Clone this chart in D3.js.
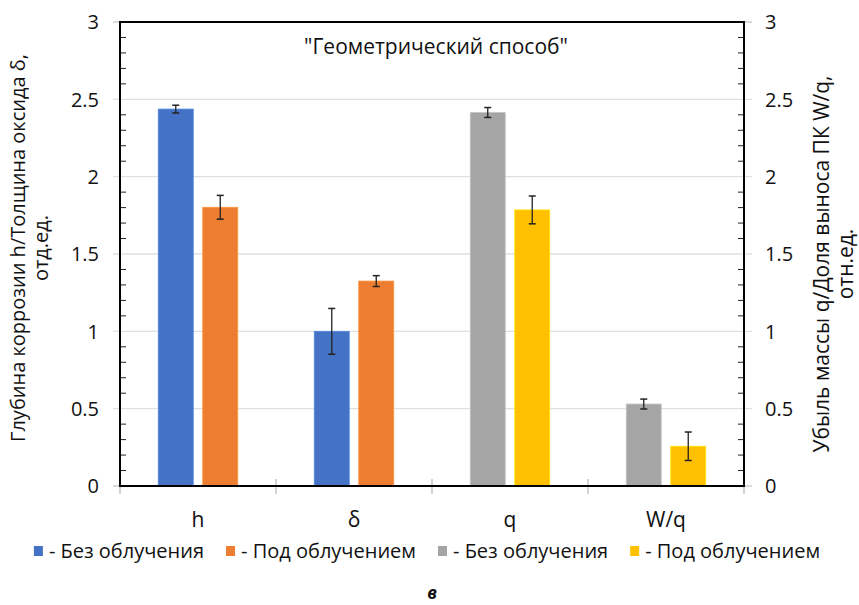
<!DOCTYPE html>
<html>
<head>
<meta charset="utf-8">
<script src="https://cdn.jsdelivr.net/npm/d3@7"></script>
<style>
  html, body { margin: 0; padding: 0; background: #fff; }
  svg text { font-family: "Open Sans", "Noto Sans", sans-serif; fill: #111; }
</style>
</head>
<body>
<svg id="chart" width="859" height="605"></svg>
<script>
// Categories along the x axis
const categories = ["h", "δ", "q", "W/q"];

// Series values (left axis pair: h, δ; right axis pair: q, W/q)
const blueValues   = [2.437, 1.000, null, null];
const blueErrors   = [0.025, 0.148, null, null];
const orangeValues = [1.802, 1.325, null, null];
const orangeErrors = [0.077, 0.035, null, null];
const grayValues   = [null, null, 2.415, 0.530];
const grayErrors   = [null, null, 0.032, 0.032];
const yellowValues = [null, null, 1.785, 0.257];
const yellowErrors = [null, null, 0.090, 0.092];

// Axis tick labels
const yTicks = [0, 0.5, 1, 1.5, 2, 2.5, 3];
const yTickLabels = ["0", "0.5", "1", "1.5", "2", "2.5", "3"];

const legendLabels = ["- Без облучения", "- Под облучением", "- Без облучения", "- Под облучением"];
const colors = ["#4472C4", "#ED7D31", "#A5A5A5", "#FFC000"];

const series = [
  { values: blueValues,   errors: blueErrors,   slot: 0 },
  { values: orangeValues, errors: orangeErrors, slot: 1 },
  { values: grayValues,   errors: grayErrors,   slot: 0 },
  { values: yellowValues, errors: yellowErrors, slot: 1 }
];

const svg = d3.select("#chart");
const plotL = 120, plotR = 744, plotT = 22, plotB = 486;

const x0 = d3.scaleBand().domain(categories).range([plotL, plotR]).padding(0);
const x1 = d3.scaleBand().domain([0, 1]).range([0, x0.bandwidth()])
  .paddingInner(0.2135).paddingOuter(0.86);
const yL = d3.scaleLinear().domain([0, 3]).range([plotB, plotT]);
const yR = d3.scaleLinear().domain([0, 3]).range([plotB, plotT]);

// Gridlines with outside major ticks
const grid = svg.append("g");
yTicks.forEach(t => {
  if (t === 0 || t === 3) {
    grid.append("line").attr("x1", plotL - 7).attr("x2", plotL).attr("y1", yL(t)).attr("y2", yL(t))
      .attr("stroke", "#c8c8c8").attr("stroke-width", 1.3);
    grid.append("line").attr("x1", plotR).attr("x2", plotR + 8).attr("y1", yL(t)).attr("y2", yL(t))
      .attr("stroke", "#c8c8c8").attr("stroke-width", 1.3);
  } else {
    grid.append("line").attr("x1", plotL - 7).attr("x2", plotR + 8).attr("y1", yL(t)).attr("y2", yL(t))
      .attr("stroke", "#e0e0e0").attr("stroke-width", 1.3);
  }
});

// Category boundary ticks
categories.map(c => x0(c)).concat([plotR]).forEach(xx => {
  svg.append("line").attr("x1", xx).attr("x2", xx).attr("y1", plotB - 7).attr("y2", plotB + 8)
    .attr("stroke", "#bdbdbd").attr("stroke-width", 1.3);
});

// Bars with error bars
series.forEach((s, si) => {
  const g = svg.append("g");
  const ys = si < 2 ? yL : yR;
  categories.forEach((c, i) => {
    const v = s.values[i];
    if (v == null) return;
    const bx = x0(c) + x1(s.slot);
    g.append("rect")
      .attr("x", bx).attr("y", ys(v))
      .attr("width", x1.bandwidth()).attr("height", ys(0) - ys(v))
      .attr("fill", colors[si])
      .attr("stroke", d3.color(colors[si]).brighter(0.5))
      .attr("stroke-width", 0.8);
    const e = s.errors[i];
    const cx = bx + x1.bandwidth() / 2;
    g.append("line").attr("x1", cx).attr("x2", cx).attr("y1", ys(v + e)).attr("y2", ys(v - e))
      .attr("stroke", "#222").attr("stroke-width", 1.3);
    [v + e, v - e].forEach(w => {
      g.append("line").attr("x1", cx - 3.5).attr("x2", cx + 3.5).attr("y1", ys(w)).attr("y2", ys(w))
        .attr("stroke", "#222").attr("stroke-width", 1.5);
    });
  });
});

// Minor ticks (inside)
const minor = d3.range(1, 30).map(d => d / 10).filter(d => Math.abs(d * 2 - Math.round(d * 2)) > 1e-6);
minor.forEach(t => {
  svg.append("line").attr("x1", plotL).attr("x2", plotL + 6).attr("y1", yL(t)).attr("y2", yL(t))
    .attr("stroke", "#222").attr("stroke-width", 1);
  svg.append("line").attr("x1", plotR - 6).attr("x2", plotR).attr("y1", yR(t)).attr("y2", yR(t))
    .attr("stroke", "#222").attr("stroke-width", 1);
});

// Frame: axes and top border
svg.append("rect").attr("x", plotL).attr("y", plotT).attr("width", plotR - plotL).attr("height", plotB - plotT)
  .attr("fill", "none").attr("stroke", "#000").attr("stroke-width", 2);

// Y tick labels
yTicks.forEach((t, i) => {
  svg.append("text").attr("x", plotL - 21).attr("y", yL(t)).attr("dy", "0.36em")
    .attr("text-anchor", "end").attr("font-size", 20).text(yTickLabels[i]);
  svg.append("text").attr("x", plotR + 21).attr("y", yR(t)).attr("dy", "0.36em")
    .attr("text-anchor", "start").attr("font-size", 20).text(yTickLabels[i]);
});

// Category labels
categories.forEach(c => {
  svg.append("text").attr("x", x0(c) + x0.bandwidth() / 2).attr("y", 527)
    .attr("text-anchor", "middle").attr("font-size", 21).text(c);
});

// Title inside plot
svg.append("text").attr("x", 436).attr("y", 54).attr("text-anchor", "middle")
  .attr("font-size", 21).text("\"Геометрический способ\"");

// Axis titles
const lt = svg.append("text").attr("transform", "translate(25,248) rotate(-90)")
  .attr("text-anchor", "middle").attr("font-size", 20);
lt.append("tspan").attr("x", 0).attr("dy", 0).text("Глубина коррозии h/Толщина оксида δ,");
lt.append("tspan").attr("x", 0).attr("dy", 23).text("отд.ед.");

const rt = svg.append("text").attr("transform", "translate(829,264) rotate(-90)")
  .attr("text-anchor", "middle").attr("font-size", 21);
rt.append("tspan").attr("x", 0).attr("dy", 0).text("Убыль массы q/Доля выноса ПК W/q,");
rt.append("tspan").attr("x", 0).attr("dy", 24).text("отн.ед.");

// Legend, laid out in one centred row
const legend = svg.append("g");
let lx = 0;
legendLabels.forEach((l, i) => {
  const item = legend.append("g").attr("transform", `translate(${lx},0)`);
  item.append("rect").attr("x", 0).attr("y", -5).attr("width", 9).attr("height", 10)
    .attr("fill", colors[i]);
  const t = item.append("text").attr("x", 15).attr("y", 0).attr("dy", "0.35em")
    .attr("font-size", 20).text(l);
  lx += 15 + t.node().getComputedTextLength() + 22;
});
const legendW = lx - 22;
legend.attr("transform", `translate(${427 - legendW / 2},551)`);

// Panel letter
svg.append("text").attr("x", 432).attr("y", 599).attr("text-anchor", "middle")
  .attr("font-size", 17).attr("font-weight", "bold").attr("font-style", "italic").text("в");
</script>
</body>
</html>
